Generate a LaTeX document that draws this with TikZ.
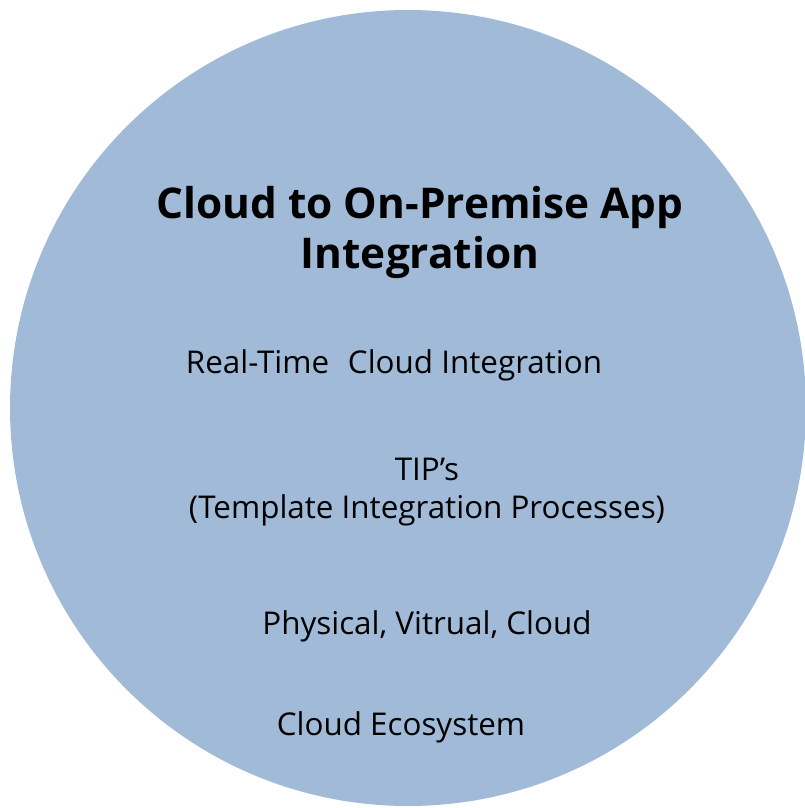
\documentclass[tikz,border=0pt]{standalone}
\usepackage{fontspec}
\setmainfont{Open Sans}
\definecolor{discblue}{RGB}{161,186,215}
\begin{document}
\begin{tikzpicture}[x=1bp,y=-1bp,
  heading/.style={font=\fontsize{42.5}{50}\selectfont\bfseries, align=center, inner sep=0pt, anchor=base},
  item/.style={font=\fontsize{31.5}{38}\selectfont, align=center, inner sep=0pt, anchor=base}]
  \useasboundingbox (0,0) rectangle (805,808);
  % background disc
  \begin{scope}
    \clip (0,0) rectangle (805,808);
    \fill[discblue] (408,408) circle[radius=398];
  \end{scope}
  % title and list of entries (base anchor sits on the last line)
  \node[heading] (title) at (420,268) {Cloud to On-Premise App\\Integration};
  \node[item] (realtime) at (394,373) {Real-Time\hspace{0.6em}Cloud Integration};
  \node[item] (tips) at (427,518) {TIP’s\\(Template Integration Processes)};
  \node[item] (envs) at (427,634) {Physical, Vitrual, Cloud};
  \node[item] (eco) at (401,735) {Cloud Ecosystem};
\end{tikzpicture}
\end{document}
